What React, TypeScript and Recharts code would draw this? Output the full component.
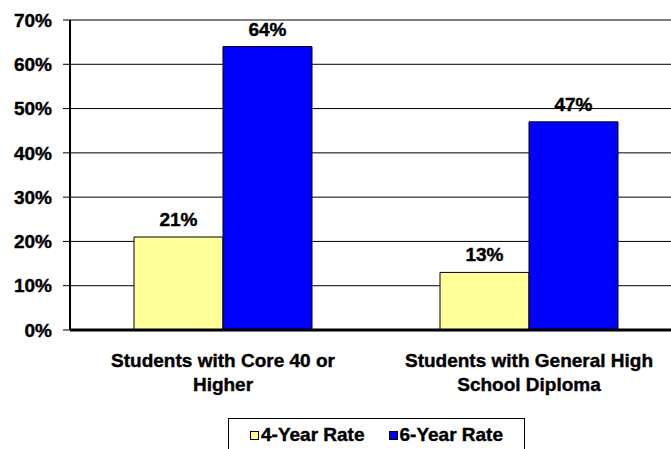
import { Bar, BarChart, CartesianGrid, LabelList, Legend, XAxis, YAxis } from "recharts";

const categories = ["Students with Core 40 or\nHigher", "Students with General High\nSchool Diploma"];
const fourYearRate = [21, 13];
const sixYearRate = [64, 47];
const yTicks = [0, 10, 20, 30, 40, 50, 60, 70];

const FONT = "'Liberation Sans', Arial, sans-serif";
const YELLOW = "#FFFF99";
const BLUE = "#0000FF";
const SIZE = 19;

const rows = categories.map((name, i) => ({
  name,
  four: fourYearRate[i],
  six: sixYearRate[i],
}));

const boldText = {
  fill: "#000",
  fontFamily: FONT,
  fontWeight: "bold",
  fontSize: SIZE,
  stroke: "#000",
  strokeWidth: 0.4,
};

function CategoryTick({ x, y, payload }: any) {
  const lines = String(payload.value).split("\n");
  return (
    <text x={x} y={y + 29} textAnchor="middle" style={boldText}>
      {lines.map((l, i) => (
        <tspan key={i} x={x} dy={i === 0 ? 0 : 24}>
          {l}
        </tspan>
      ))}
    </text>
  );
}

function LegendBox() {
  const items = [
    { label: "4-Year Rate", color: YELLOW },
    { label: "6-Year Rate", color: BLUE },
  ];
  return (
    <div
      style={{
        border: "1px solid #000",
        height: 40,
        boxSizing: "border-box",
        display: "flex",
        alignItems: "flex-start",
        justifyContent: "center",
        gap: 24,
        paddingTop: 5,
        fontFamily: FONT,
        fontWeight: "bold",
        fontSize: SIZE,
        WebkitTextStroke: "0.4px #000",
      }}
    >
      {items.map((it) => (
        <span key={it.label} style={{ display: "flex", alignItems: "center" }}>
          <span
            style={{
              display: "inline-block",
              width: 7,
              height: 7,
              border: "1px solid #000",
              background: it.color,
              marginRight: 2,
            }}
          />
          {it.label}
        </span>
      ))}
    </div>
  );
}

export default function App() {
  return (
    <div
      style={{
        position: "absolute",
        left: 0,
        top: 0,
        width: 671,
        height: 449,
        overflow: "hidden",
        background: "#fff",
      }}
    >
      <BarChart
        width={682}
        height={458}
        data={rows}
        margin={{ top: 20, right: 0, left: 0, bottom: 0 }}
        barCategoryGap={64}
        barGap={0}
      >
        <CartesianGrid stroke="#000" strokeWidth={1} vertical={false} />
        <XAxis
          dataKey="name"
          height={88}
          axisLine={{ stroke: "#000", strokeWidth: 3 }}
          tickLine={false}
          tick={<CategoryTick />}
          interval={0}
        />
        <YAxis
          width={70}
          domain={[0, 70]}
          ticks={yTicks}
          interval={0}
          axisLine={{ stroke: "#000", strokeWidth: 2 }}
          tickLine={{ stroke: "#000", strokeWidth: 1 }}
          tickSize={7}
          tickMargin={11}
          tickFormatter={(v: number) => `${v}%`}
          tick={boldText}
        />
        <Legend
          verticalAlign="bottom"
          content={<LegendBox />}
          wrapperStyle={{ left: 228, width: 297, bottom: 0, height: 40 }}
        />
        <Bar dataKey="four" fill={YELLOW} stroke="#000" strokeWidth={1} isAnimationActive={false}>
          <LabelList
            dataKey="four"
            position="top"
            offset={11}
            formatter={(v: any) => `${v}%`}
            style={boldText}
          />
        </Bar>
        <Bar dataKey="six" fill={BLUE} stroke="#000" strokeWidth={1} isAnimationActive={false}>
          <LabelList
            dataKey="six"
            position="top"
            offset={11}
            formatter={(v: any) => `${v}%`}
            style={boldText}
          />
        </Bar>
      </BarChart>
    </div>
  );
}
